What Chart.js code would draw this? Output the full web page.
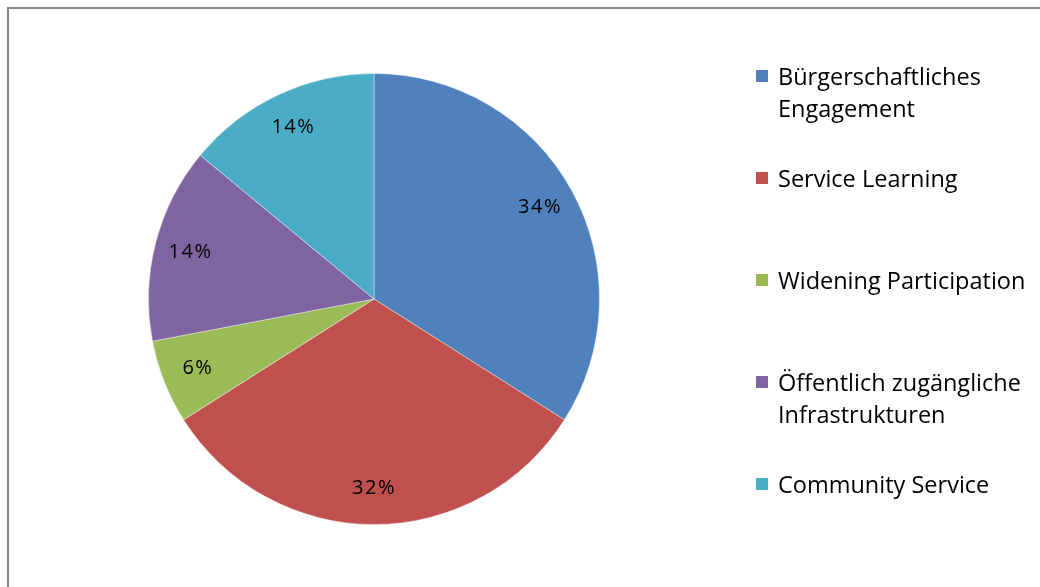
<!DOCTYPE html>
<html>
<head>
<meta charset="utf-8">
<script src="https://cdn.jsdelivr.net/npm/chart.js@4/dist/chart.umd.min.js"></script>
<style>
  html, body { margin: 0; padding: 0; background: #fff; overflow: hidden; }
  #wrap { position: relative; width: 1040px; height: 587px; }
  #frame {
    position: absolute; left: 7px; top: 7px; width: 1100px; height: 700px;
    border-top: 2px solid #868686; border-left: 2px solid #868686;
  }
  #pie { position: absolute; left: 0; top: 0; }
  #legend {
    position: absolute; left: 756px; top: 60px; margin: 0; padding: 0; list-style: none;
    font-family: "Open Sans", sans-serif; font-size: 23.5px; color: #000;
    white-space: nowrap;
  }
  #legend li { position: relative; height: 102px; padding-left: 22px; line-height: 32px; }
  #legend .box { position: absolute; left: 0; top: 10px; width: 12px; height: 12px; }
</style>
</head>
<body>
<div id="wrap">
  <div id="frame"></div>
  <canvas id="pie" width="1040" height="587"></canvas>
  <ul id="legend"></ul>
</div>
<script>
const categories = [
  ["Bürgerschaftliches", "Engagement"],
  ["Service Learning"],
  ["Widening Participation"],
  ["Öffentlich zugängliche", "Infrastrukturen"],
  ["Community Service"]
];
const shares = [34, 32, 6, 14, 14];
const colors = ["#4F81BD", "#C0504D", "#9BBB59", "#8064A2", "#4BACC6"];

// percentage labels placed inside each slice, near the rim
const sliceLabels = {
  id: "sliceLabels",
  afterDatasetsDraw(chart) {
    const ctx = chart.ctx;
    const meta = chart.getDatasetMeta(0);
    const total = shares.reduce((a, b) => a + b, 0);
    ctx.save();
    ctx.font = "20px 'Open Sans', sans-serif";
    ctx.letterSpacing = "1.5px";
    ctx.fillStyle = "#000";
    ctx.textAlign = "center";
    ctx.textBaseline = "middle";
    meta.data.forEach((arc, i) => {
      const p = arc.getProps(["x", "y", "startAngle", "endAngle", "outerRadius"], true);
      const mid = (p.startAngle + p.endAngle) / 2;
      const r = p.outerRadius * 0.84;
      const pct = Math.round(shares[i] / total * 100) + "%";
      ctx.fillText(pct, p.x + Math.cos(mid) * r, p.y + Math.sin(mid) * r);
    });
    ctx.restore();
  }
};

const chart = new Chart(document.getElementById("pie").getContext("2d"), {
  type: "pie",
  data: {
    labels: categories.map(c => c.join(" ")),
    datasets: [{
      data: shares,
      backgroundColor: colors,
      borderColor: "rgba(255,255,255,0.4)",
      borderWidth: 1
    }]
  },
  options: {
    responsive: false,
    animation: false,
    layout: { padding: { left: 148, right: 440, top: 73, bottom: 62 } },
    plugins: {
      legend: { display: false },
      tooltip: { enabled: false }
    }
  },
  plugins: [sliceLabels]
});

const legend = document.getElementById("legend");
categories.forEach((lines, i) => {
  const li = document.createElement("li");
  const box = document.createElement("span");
  box.className = "box";
  box.style.background = colors[i];
  li.appendChild(box);
  lines.forEach((line, k) => {
    if (k) li.appendChild(document.createElement("br"));
    li.appendChild(document.createTextNode(line));
  });
  legend.appendChild(li);
});
</script>
</body>
</html>
